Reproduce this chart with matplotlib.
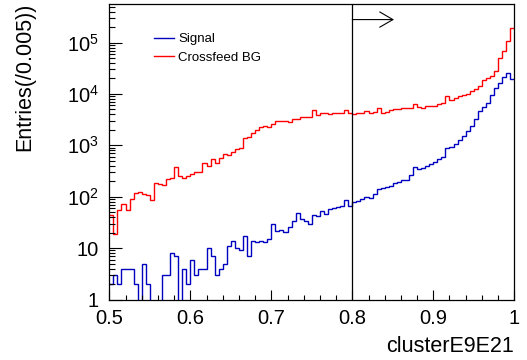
import numpy as np
import matplotlib
matplotlib.use("Agg")
import matplotlib.pyplot as plt
from matplotlib.lines import Line2D
from matplotlib.ticker import FixedLocator, FixedFormatter, LogLocator, MultipleLocator, NullFormatter

plt.rcParams['font.family'] = ['Liberation Sans', 'DejaVu Sans']
plt.rcParams['mathtext.fontset'] = 'custom'
plt.rcParams['mathtext.rm'] = 'Liberation Sans'

# histogram: 100 bins of 0.005 between 0.5 and 1.0
x_min, x_max, n_bins = 0.5, 1.0, 100

signal = [
    2, 3, 2, 4, 4, 4, 2, 0, 5, 2,
    0, 0, 0, 3, 3, 8, 7, 0, 4, 2,
    6, 3, 4, 4, 10, 7, 3, 4, 5, 11,
    14, 10, 9, 17, 7, 14, 13, 14, 13, 15,
    30, 22, 23, 21, 26, 34, 48, 37, 33, 30,
    44, 42, 53, 47, 57, 59, 64, 67, 86, 66,
    78, 83, 89, 100, 93, 113, 141, 150, 152, 164,
    183, 190, 212, 212, 265, 385, 341, 366, 400, 425,
    480, 535, 600, 870, 940, 1060, 1270, 1510, 1920, 2390,
    3210, 4660, 5460, 6690, 9500, 12800, 16100, 20900, 25800, 19400,
]

crossfeed = [
    44, 19, 55, 72, 55, 89, 120, 126, 112, 110,
    86, 187, 176, 167, 218, 228, 372, 258, 228, 258,
    278, 308, 308, 458, 395, 535, 458, 570, 685, 650,
    740, 835, 890, 1370, 1480, 1700, 1980, 2290, 2350, 2240,
    2590, 3000, 2940, 2970, 2900, 3200, 3300, 3600, 3600, 3600,
    4900, 3980, 4270, 4270, 4070, 4170, 4170, 4270, 4790, 4270,
    4070, 4170, 4270, 4570, 4270, 4470, 5250, 4170, 4470, 4790,
    5010, 5130, 5250, 5250, 5250, 6460, 5500, 5370, 5750, 5890,
    5890, 6460, 6760, 9120, 7760, 8320, 9120, 9550, 10200, 11200,
    12600, 14500, 19100, 20000, 21900, 27500, 50000, 67600, 107000, 195000,
]

series_labels = ['Signal', 'Crossfeed BG']
x_ticks = [0.5, 0.6, 0.7, 0.8, 0.9, 1.0]
x_ticklabels = ['0.5', '0.6', '0.7', '0.8', '0.9', '1']
y_ticks = [1, 10, 1e2, 1e3, 1e4, 1e5]
y_ticklabels = ['1', '10', r'$\mathregular{10^{2}}$', r'$\mathregular{10^{3}}$',
                r'$\mathregular{10^{4}}$', r'$\mathregular{10^{5}}$']
cut_value = 0.8
arrow_end = 0.8515

blue, red = '#0000c0', '#ff0000'

edges = np.linspace(x_min, x_max, n_bins + 1)

fig = plt.figure(figsize=(5.27, 3.6), dpi=100)
W, H = 527, 360
left, right, top, bottom = 109.3, 514.3, 3.5, 299.5
ax = fig.add_axes([left / W, (H - bottom) / H, (right - left) / W, (bottom - top) / H])

ax.set_yscale('log')
ax.set_xlim(x_min, x_max)
ax.set_ylim(1, 10 ** 5.76)

def draw(vals, color):
    v = np.asarray(vals, dtype=float)
    v = np.where(v > 0, v, 1e-3)  # empty bins drop below the axis like ROOT
    ax.stairs(v, edges, color=color, lw=1.0, baseline=None)

draw(crossfeed, red)
draw(signal, blue)

# cut line and arrow
ax.axvline(cut_value, color='black', lw=0.9)
ax.annotate('', xy=(arrow_end, 2.8e5), xytext=(cut_value, 2.8e5),
            arrowprops=dict(arrowstyle='->,head_length=0.95,head_width=0.55',
                            lw=0.8, color='black', shrinkA=0, shrinkB=0))

# ticks, ROOT style
ax.xaxis.set_major_locator(FixedLocator(x_ticks))
ax.xaxis.set_major_formatter(FixedFormatter(x_ticklabels))
ax.xaxis.set_minor_locator(MultipleLocator(0.02))
ax.yaxis.set_major_locator(FixedLocator(y_ticks))
ax.yaxis.set_major_formatter(FixedFormatter(y_ticklabels))
ax.yaxis.set_minor_locator(LogLocator(base=10, subs=np.arange(2, 10)))
ax.yaxis.set_minor_formatter(NullFormatter())

ax.tick_params(axis='x', which='major', direction='in', length=7, width=0.8, labelsize=14.5, pad=7)
ax.tick_params(axis='x', which='minor', direction='in', length=3.5, width=0.8)
ax.tick_params(axis='y', which='major', direction='in', length=9.5, width=0.8, labelsize=14.5, pad=7.5)
ax.tick_params(axis='y', which='minor', direction='in', length=4.5, width=0.8)
for s in ax.spines.values():
    s.set_linewidth(0.9)

fig.text(25 / W, 1 - 3 / H, 'Entries(/0.005))', rotation=90, fontsize=15.5,
         ha='center', va='top')
fig.text(right / W, 1 - 347 / H, 'clusterE9E21', fontsize=15.5, ha='right', va='center')

proxies = [Line2D([], [], color=blue, lw=1.0), Line2D([], [], color=red, lw=1.0)]
fig.legend(proxies, series_labels, loc='upper left', bbox_to_anchor=(154 / W, 1 - 33 / H),
           frameon=False, fontsize=9.5, handlelength=1.5, handletextpad=0.35,
           borderpad=0, borderaxespad=0, labelspacing=0.5)

fig.savefig('out.png', dpi=100)
